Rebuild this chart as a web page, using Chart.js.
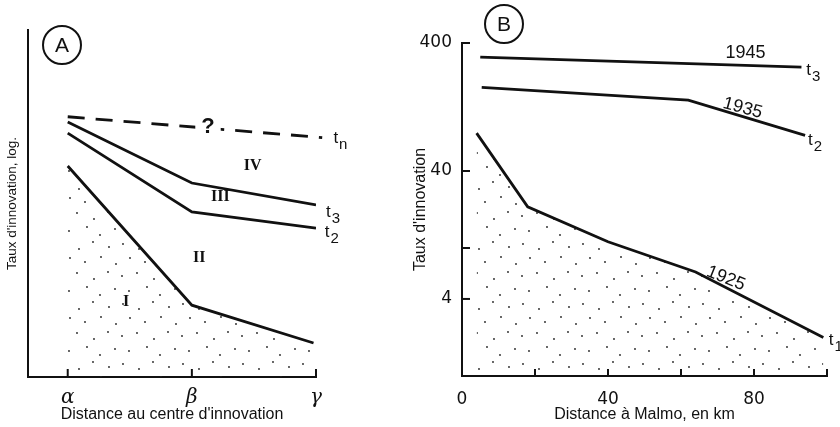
<!DOCTYPE html>
<html>
<head>
<meta charset="utf-8">
<script src="https://cdn.jsdelivr.net/npm/chart.js@4.4.0/dist/chart.umd.min.js"></script>
<style>
  body { margin: 0; background: #fff; }
  #wrap { position: relative; width: 840px; height: 427px; overflow: hidden; }
  canvas { position: absolute; top: 0; }
  #chartA { left: 0; }
  #chartB { left: 400px; }
  .tag {
    position: absolute; width: 36px; height: 36px; border: 2px solid #111; border-radius: 50%;
    font: 21px "Liberation Sans", sans-serif; text-align: center; line-height: 36px; color: #111;
  }
</style>
</head>
<body>
<div id="wrap">
  <canvas id="chartA" width="420" height="427"></canvas>
  <canvas id="chartB" width="440" height="427"></canvas>
  <div class="tag" style="left:42px;top:25px">A</div>
  <div class="tag" style="left:484px;top:4px">B</div>
</div>
<script>
// --- panel A : schéma (axe log sans graduation) ---
const catsA = ["α", "β", "γ"];
const xA = [0, 1, 2];
const xA_tn = [0, 2.05];
const tnA = [7.5, 6.9];
const t3A = [7.35, 5.59, 4.96];
const t2A = [7.03, 4.76, 4.29];
const xA_t1 = [0, 1, 1.98];
const t1A = [6.08, 2.07, 0.98];

// --- panel B : Malmo ---
const x1945 = [5, 93];
const y1945 = [310, 259];
const x1935 = [5.4, 62, 94];
const y1935 = [180, 143, 76];
const x1925 = [4, 18, 40, 64, 99];
const y1925 = [79, 21, 11.2, 6.5, 2.0];
const xTicksB = [0, 20, 40, 60, 80, 100];
const xLabelsB = ["0", "", "40", "", "80", ""];
const yTicksB = [1, 4, 10, 40, 400];
const yLabelsB = ["", "4", "", "40", "400"];

const pts = (xs, ys) => xs.map((x, i) => ({ x: x, y: ys[i] }));

// pointillé (trame des zones I et 1925)
const makeStipple = () => {
  const c = document.createElement("canvas");
  c.width = 60; c.height = 60;
  const g = c.getContext("2d");
  g.fillStyle = "#222";
  [[3,4],[19,9],[33,2],[49,7],[10,18],[25,22],[41,17],[56,24],
   [2,36],[17,33],[34,39],[48,32],[9,51],[27,47],[40,55],[55,49]].forEach(d => {
    g.beginPath(); g.arc(d[0], d[1], 0.9, 0, Math.PI * 2); g.fill();
  });
  return g.createPattern(c, "repeat");
};
const stipple = makeStipple();

// petites graduations tournées vers l'intérieur
const inTicks = {
  id: "inTicks",
  afterDraw(chart, args, opts) {
    const ctx = chart.ctx, xs = chart.scales.x, ys = chart.scales.y;
    ctx.save();
    ctx.strokeStyle = "#111";
    ctx.lineWidth = 2;
    if (opts.x) xs.ticks.forEach(t => {
      const p = xs.getPixelForValue(t.value);
      ctx.beginPath(); ctx.moveTo(p, xs.top); ctx.lineTo(p, xs.top - opts.x); ctx.stroke();
    });
    if (opts.y) ys.ticks.forEach(t => {
      const p = ys.getPixelForValue(t.value);
      ctx.beginPath(); ctx.moveTo(ys.right, p); ctx.lineTo(ys.right + opts.y, p); ctx.stroke();
    });
    ctx.restore();
  }
};

const notesA = [
  { text: "?", x: 1.13, y: 7.2, font: "bold 22px 'Liberation Sans'", blank: true },
  { text: "IV", x: 1.49, y: 6.08, font: "bold 16px 'Liberation Serif'" },
  { text: "III", x: 1.23, y: 5.19, font: "bold 16px 'Liberation Serif'" },
  { text: "II", x: 1.06, y: 3.43, font: "bold 16px 'Liberation Serif'" },
  { text: "I", x: 0.47, y: 2.16, font: "bold 16px 'Liberation Serif'" },
  { text: "t", sub: "n", x: 2.14, y: 6.89, align: "left", font: "17px 'Liberation Sans'", subFont: "15px 'Liberation Sans'" },
  { text: "t", sub: "3", x: 2.08, y: 4.76, align: "left", font: "17px 'Liberation Sans'", subFont: "15px 'Liberation Sans'" },
  { text: "t", sub: "2", x: 2.07, y: 4.18, align: "left", font: "17px 'Liberation Sans'", subFont: "15px 'Liberation Sans'" }
];
const notesB = [
  { text: "1945", x: 77.7, y: 334, font: "18px 'Liberation Sans'" },
  { text: "t", sub: "3", x: 94.3, y: 246, align: "left", font: "17px 'Liberation Sans'", subFont: "15px 'Liberation Sans'" },
  { text: "1935", x: 76.9, y: 124, rot: 15, font: "18px 'Liberation Sans'" },
  { text: "t", sub: "2", x: 94.8, y: 70, align: "left", font: "17px 'Liberation Sans'", subFont: "15px 'Liberation Sans'" },
  { text: "1925", x: 72.3, y: 5.8, rot: 22, font: "18px 'Liberation Sans'" },
  { text: "t", sub: "1", x: 100.5, y: 1.9, align: "left", font: "17px 'Liberation Sans'", subFont: "15px 'Liberation Sans'" }
];

const notes = {
  id: "notes",
  afterDatasetsDraw(chart) {
    const items = chart.canvas.id === "chartA" ? notesA : notesB;
    const ctx = chart.ctx, xs = chart.scales.x, ys = chart.scales.y;
    items.forEach(n => {
      ctx.save();
      ctx.translate(xs.getPixelForValue(n.x), ys.getPixelForValue(n.y));
      ctx.rotate(((n.rot || 0) * Math.PI) / 180);
      ctx.font = n.font;
      ctx.textBaseline = "middle";
      ctx.textAlign = n.align || "center";
      const w = ctx.measureText(n.text).width;
      if (n.blank) {
        ctx.fillStyle = "#fff";
        ctx.fillRect(-w / 2 - 6, -12, w + 12, 24);
      }
      ctx.fillStyle = "#111";
      ctx.fillText(n.text, 0, 0);
      if (n.sub) {
        ctx.font = n.subFont;
        ctx.textAlign = "left";
        ctx.fillText(n.sub, w + 1, 7);
      }
      ctx.restore();
    });
  }
};

const lineStyle = { borderColor: "#111", borderWidth: 2.8, pointRadius: 0, tension: 0, fill: false };
const axisBorder = { display: true, color: "#111", width: 2 };

new Chart(document.getElementById("chartA"), {
  type: "line",
  data: {
    datasets: [
      { ...lineStyle, label: "tn", data: pts(xA_tn, tnA), borderDash: [17, 11], clip: false },
      { ...lineStyle, label: "t3", data: pts(xA, t3A) },
      { ...lineStyle, label: "t2", data: pts(xA, t2A) },
      { ...lineStyle, label: "t1", data: pts(xA_t1, t1A), fill: "start", backgroundColor: stipple }
    ]
  },
  options: {
    responsive: false,
    animation: false,
    layout: { padding: { left: 4, top: 30, right: 104, bottom: 0 } },
    plugins: { legend: { display: false }, tooltip: { enabled: false }, inTicks: { x: 8 } },
    scales: {
      x: {
        type: "linear", min: -0.32, max: 2,
        afterBuildTicks: s => { s.ticks = xA.map(v => ({ value: v })); },
        afterFit: s => { s.height = 50; },
        grid: { display: false, drawTicks: false },
        border: axisBorder,
        ticks: {
          padding: 9, color: "#111",
          font: { family: "'DejaVu Serif'", size: 20, style: "italic" },
          callback: v => catsA[xA.indexOf(v)]
        },
        title: {
          display: true, text: "Distance au centre d'innovation", color: "#111",
          font: { family: "'Liberation Sans'", size: 16 }, padding: { top: 0, bottom: 3 }
        }
      },
      y: {
        min: 0, max: 10,
        afterFit: s => { s.width = 24; },
        grid: { display: false, drawTicks: false },
        border: axisBorder,
        ticks: { display: false },
        title: {
          display: true, text: "Taux d'innovation, log.", color: "#111",
          font: { family: "'Liberation Sans'", size: 13.5 }, padding: 0
        }
      }
    }
  },
  plugins: [inTicks, notes]
});

new Chart(document.getElementById("chartB"), {
  type: "line",
  data: {
    datasets: [
      { ...lineStyle, label: "1945", data: pts(x1945, y1945) },
      { ...lineStyle, label: "1935", data: pts(x1935, y1935) },
      { ...lineStyle, label: "1925", data: pts(x1925, y1925), fill: "start", backgroundColor: stipple }
    ]
  },
  options: {
    responsive: false,
    animation: false,
    layout: { padding: { left: 11, top: 43, right: 13, bottom: 0 } },
    plugins: { legend: { display: false }, tooltip: { enabled: false }, inTicks: { x: 7, y: 8 } },
    scales: {
      x: {
        type: "linear", min: 0, max: 100,
        afterBuildTicks: s => { s.ticks = xTicksB.map(v => ({ value: v })); },
        afterFit: s => { s.height = 51; },
        grid: { display: false, drawTicks: false },
        border: axisBorder,
        ticks: {
          padding: 13, color: "#111",
          font: { family: "'DejaVu Sans'", size: 17 },
          callback: v => xLabelsB[xTicksB.indexOf(v)]
        },
        title: {
          display: true, text: "Distance à Malmo, en km", color: "#111",
          font: { family: "'Liberation Sans'", size: 16 }, padding: { top: 0, bottom: 3 }
        }
      },
      y: {
        type: "logarithmic", min: 1, max: 400,
        afterBuildTicks: s => { s.ticks = yTicksB.map(v => ({ value: v })); },
        afterFit: s => { s.width = 51; },
        grid: { display: false, drawTicks: false },
        border: axisBorder,
        ticks: {
          padding: 10, color: "#111",
          font: { family: "'DejaVu Sans'", size: 17 },
          callback: v => yLabelsB[yTicksB.indexOf(v)]
        },
        title: {
          display: true, text: "Taux d'innovation", color: "#111",
          font: { family: "'Liberation Sans'", size: 16 }, padding: 0
        }
      }
    }
  },
  plugins: [inTicks, notes]
});
</script>
</body>
</html>
